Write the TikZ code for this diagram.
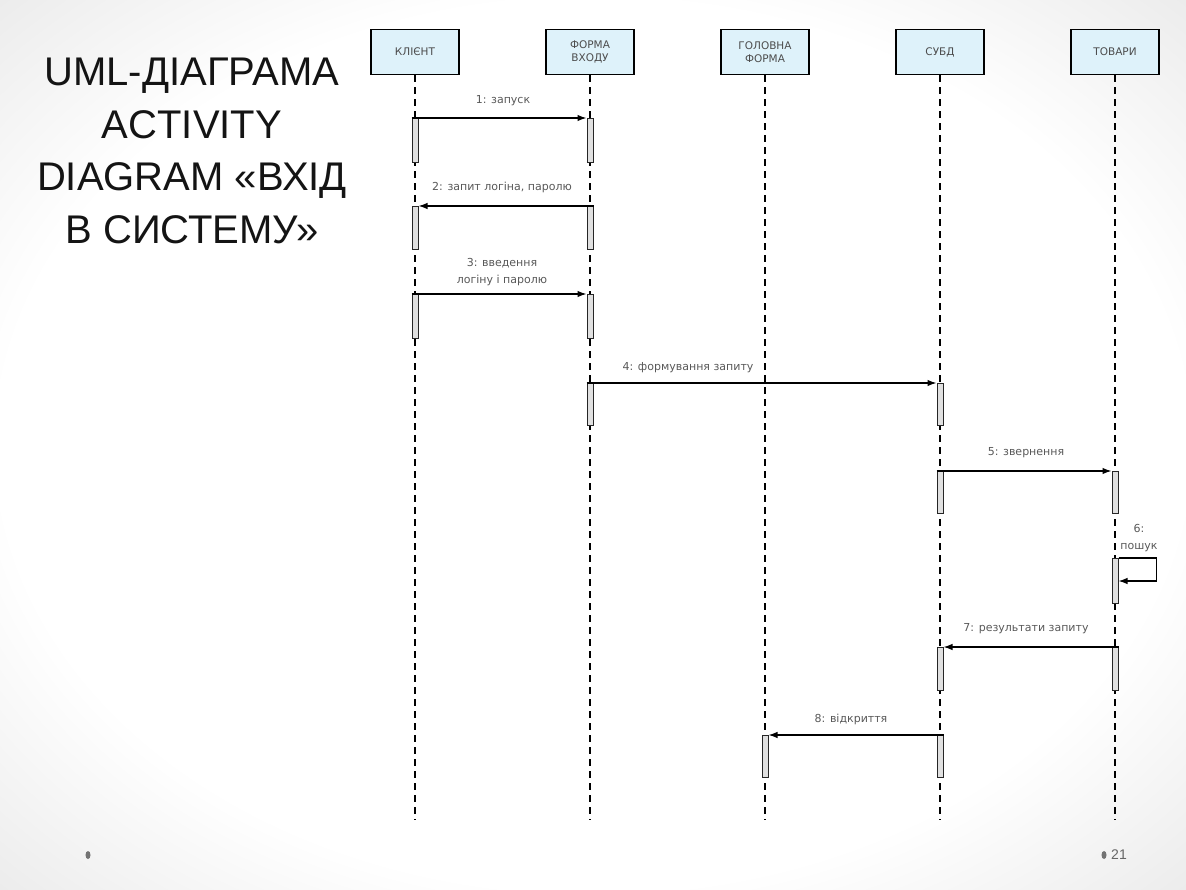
\documentclass[tikz,border=0pt]{standalone}
\usepackage{fontspec}
\setmainfont{Liberation Sans}
\newfontfamily\diagfont{DejaVu Sans}
\usetikzlibrary{arrows.meta}

\definecolor{headblue}{RGB}{222,242,250}
\pgfdeclareradialshading{slidebg}{\pgfpoint{0bp}{0bp}}{color(0bp)=(white); color(25bp)=(white); color(50bp)=(black!18); color(71bp)=(black!32)}

\tikzset{
  head/.style={draw, line width=1.4pt, fill=headblue, minimum width=88pt, minimum height=45pt,
    inner sep=1pt, align=center, font=\diagfont\fontsize{10.5}{13}\selectfont, text=black!70},
  life/.style={line width=1.5pt, dash pattern=on 7pt off 5pt},
  bar/.style={draw=black!85, line width=1pt, fill=black!12, minimum width=6pt, inner sep=0pt, anchor=north},
  msg/.style={line width=1.3pt, -{Latex[length=9pt,width=6.5pt]}},
  lbl/.style={font=\diagfont\fontsize{11}{17}\selectfont, text=black!65, align=center, inner sep=1pt},
  title/.style={font=\fontsize{40}{52.5}\selectfont, text=black!92, align=center}
}

\begin{document}
\begin{tikzpicture}[x=1pt,y=-1pt]
\useasboundingbox (0,0) rectangle (1186,890);
\shade[shading=slidebg] (0,0) rectangle (1186,890);

% title
\node[title] (titletext) at (192,151) {UML-ДІАГРАМА\\ACTIVITY\\DIAGRAM «ВХІД\\В СИСТЕМУ»};

% objects
\node[head] (klient) at (415,52) {КЛІЄНТ};
\node[head] (forma) at (590,52) {ФОРМА\\ВХОДУ};
\node[head] (golovna) at (765,52) {ГОЛОВНА\\ФОРМА};
\node[head] (subd) at (940,52) {СУБД};
\node[head] (tovary) at (1115,52) {ТОВАРИ};

\coordinate (klient-end) at (415,820);
\coordinate (forma-end) at (590,820);
\coordinate (golovna-end) at (765,820);
\coordinate (subd-end) at (940,820);
\coordinate (tovary-end) at (1115,820);

\foreach \n in {klient,forma,golovna,subd,tovary}
  \draw[life] (\n.south) -- (\n-end);

% activations
\node[bar, minimum height=44pt] (k1) at (415,118) {};
\node[bar, minimum height=43pt] (k2) at (415,206) {};
\node[bar, minimum height=44pt] (k3) at (415,294) {};
\node[bar, minimum height=44pt] (f1) at (590,118) {};
\node[bar, minimum height=43pt] (f2) at (590,206) {};
\node[bar, minimum height=44pt] (f3) at (590,294) {};
\node[bar, minimum height=42pt] (f4) at (590,383) {};
\node[bar, minimum height=42pt] (g1) at (765,735) {};
\node[bar, minimum height=42pt] (s1) at (940,383) {};
\node[bar, minimum height=42pt] (s2) at (940,471) {};
\node[bar, minimum height=43pt] (s3) at (940,647) {};
\node[bar, minimum height=42pt] (s4) at (940,735) {};
\node[bar, minimum height=42pt] (t1) at (1115,471) {};
\node[bar, minimum height=45pt] (t2) at (1115,558) {};
\node[bar, minimum height=43pt] (t3) at (1115,647) {};

% messages
\draw[msg] (k1.north west) -- (f1.north west);
\draw[msg] (f2.north east) -- (k2.north east);
\draw[msg] (k3.north west) -- (f3.north west);
\draw[msg] (f4.north west) -- (s1.north west);
\draw[msg] (s2.north west) -- (t1.north west);
\draw[msg] (t2.north east) -- ++(38,0) -- ++(0,23) -- ++(-38,0);
\draw[msg] (t3.north east) -- (s3.north east);
\draw[msg] (s4.north east) -- (g1.north east);

\node[lbl] (m1) at (503,101) {1: запуск};
\node[lbl] (m2) at (502,187) {2: запит логіна, паролю};
\node[lbl] (m3) at (502,272) {3: введення\\логіну і паролю};
\node[lbl] (m4) at (688,368) {4: формування запиту};
\node[lbl] (m5) at (1026,453) {5: звернення};
\node[lbl] (m6) at (1139,538) {6:\\пошук};
\node[lbl] (m7) at (1026,629) {7: результати запиту};
\node[lbl] (m8) at (851,719) {8: відкриття};

% footer
\fill[black!55] (88,855) ellipse (2.5 and 4);
\fill[black!55] (1104,855) ellipse (2.5 and 4);
\node[font=\fontsize{14}{16}\selectfont, text=black!60, inner sep=0pt] (pagenum) at (1119,855) {21};
\end{tikzpicture}
\end{document}
